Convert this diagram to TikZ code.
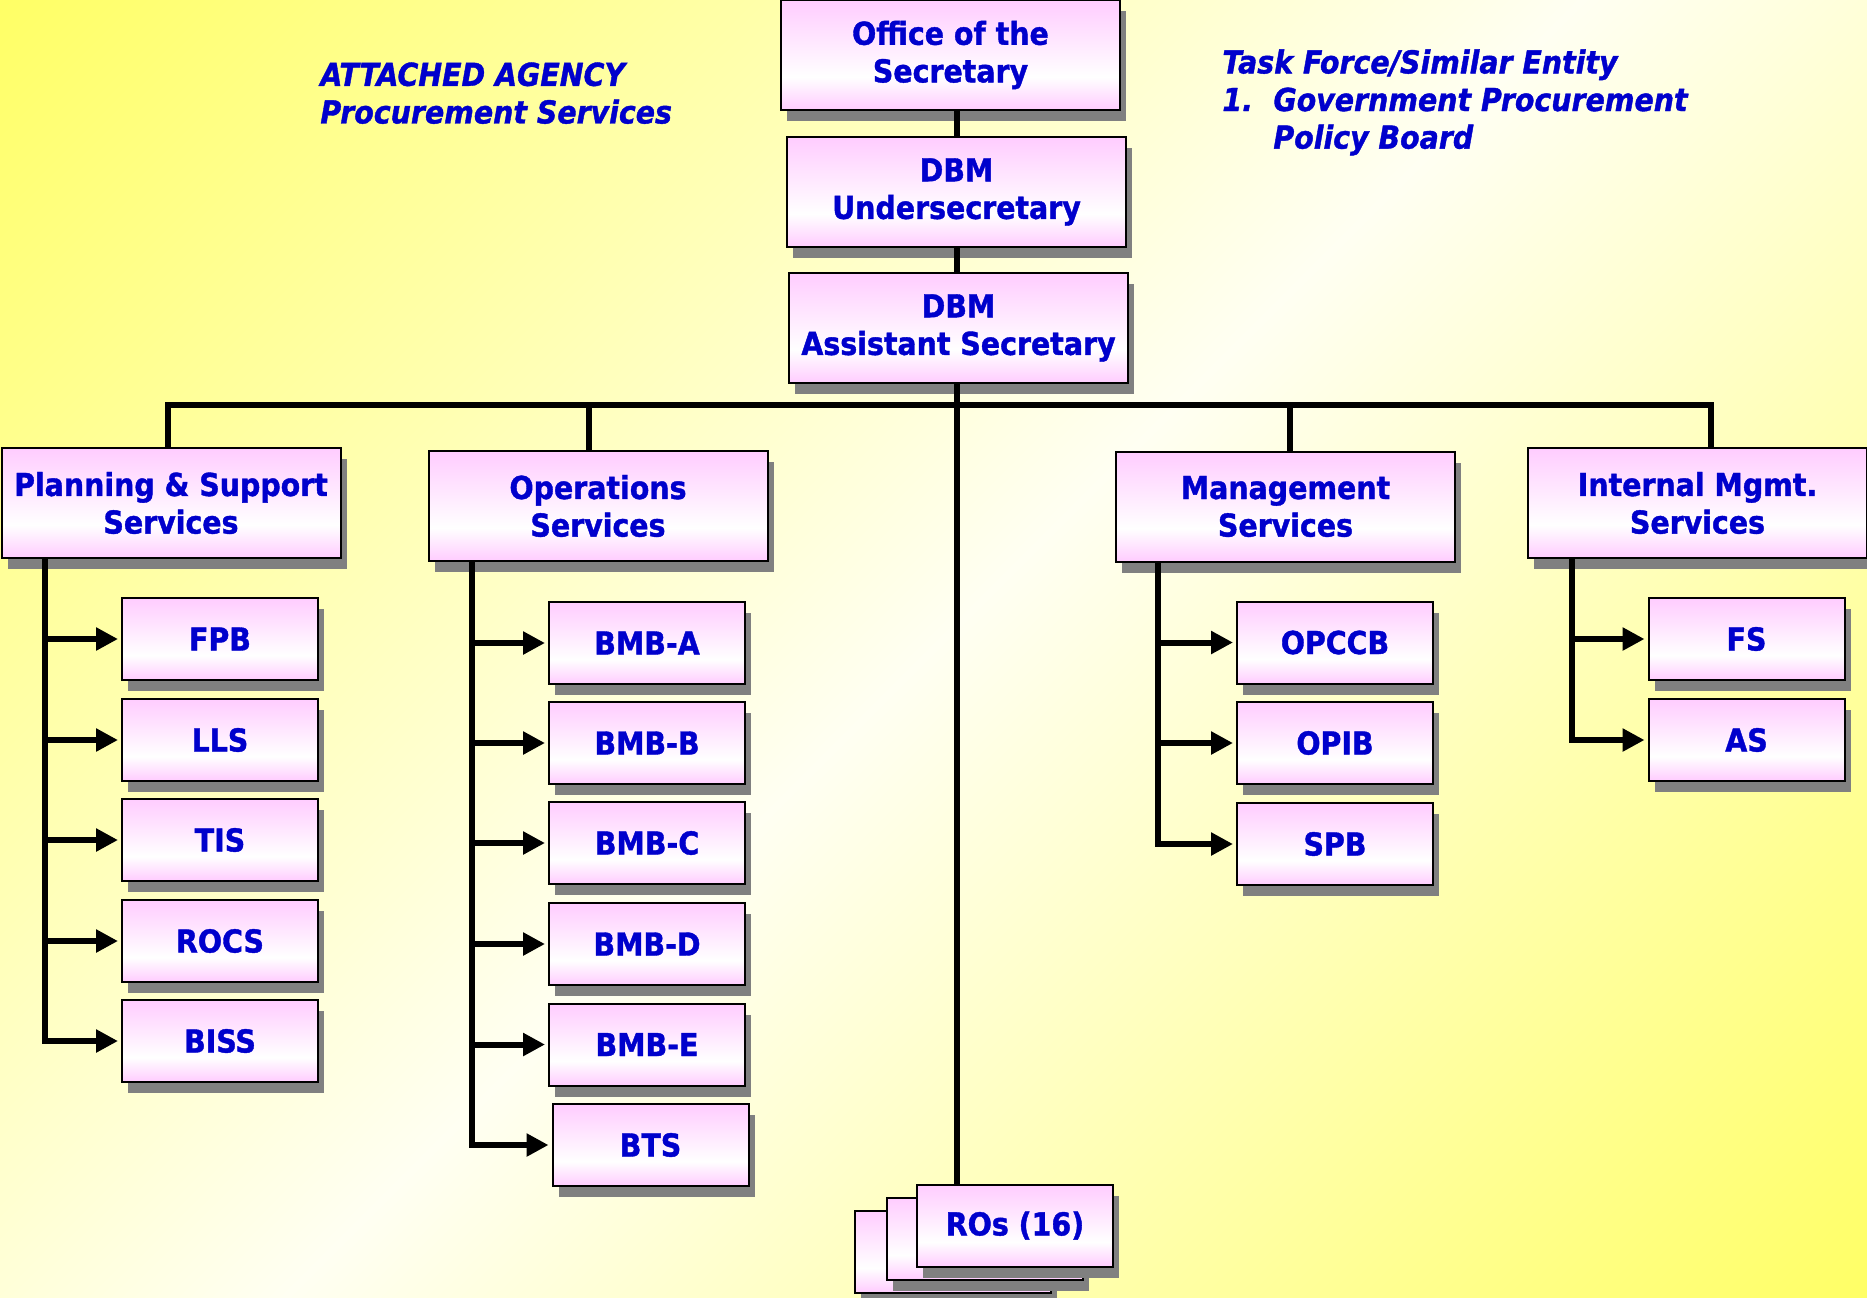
\documentclass[tikz,border=0pt]{standalone}
\usepackage{fontspec}
\usepackage{xcolor}
\usetikzlibrary{arrows.meta, calc, positioning, shadows}
\newfontfamily\orgfont{DejaVu Sans Condensed}[BoldFeatures={FakeBold=1.2}, BoldItalicFeatures={FakeBold=1.2}]
\definecolor{orgblue}{RGB}{0,0,204}
\definecolor{boxpink}{RGB}{255,204,255}
\definecolor{shadowgray}{RGB}{128,128,128}
\definecolor{bgyellow}{RGB}{255,255,102}
\definecolor{bglight}{RGB}{255,255,242}
\pgfdeclareverticalshading{boxshade}{100bp}{color(0bp)=(boxpink); color(25bp)=(boxpink); color(40bp)=(white); color(75bp)=(boxpink); color(100bp)=(boxpink)}
\pgfdeclareverticalshading{bgshade}{100bp}{color(0bp)=(bgyellow); color(14.6bp)=(bgyellow); color(50bp)=(bglight); color(85.4bp)=(bgyellow); color(100bp)=(bgyellow)}
\tikzset{
  unit/.style={rectangle, draw=black, line width=1pt, shading=boxshade, text=orgblue,
    font=\orgfont\bfseries\fontsize{15.8}{18.8}\selectfont, align=center, inner sep=0pt,
    drop shadow={shadow xshift=3pt, shadow yshift=-5.5pt, fill=shadowgray, opacity=1}},
  headbox/.style={unit, minimum width=169.5pt, minimum height=55pt},
  subbox/.style={unit, minimum width=98pt, minimum height=41pt},
  link/.style={line width=3pt, black},
  feed/.style={link, -{Triangle[length=11pt, width=11pt]}, shorten >=1.5pt},
  note/.style={text=orgblue, font=\orgfont\bfseries\itshape\fontsize{15.8}{18.8}\selectfont,
    align=left, inner sep=0pt, anchor=north west}
}
\begin{document}
\begin{tikzpicture}[x=0.5pt, y=-0.5pt]
        % Background
        \useasboundingbox (0,0) rectangle (1867,1297);
        \fill[shading=bgshade, shading angle=45] (0,0) rectangle (1867,1297);

        % Side notes
        \node[note] (attached) at (320,62) {ATTACHED AGENCY\\Procurement Services};
        \node[note] (taskforce) at (1222,49) {Task Force/Similar Entity\\\makebox[25.5pt][l]{1.}Government Procurement\\\hspace*{25.5pt}Policy Board};

        % Top of the chart
        \node[headbox] (office) at (950.5,55) {Office of the\\Secretary};
        \node[headbox] (under) at (956.5,192) {DBM\\Undersecretary};
        \node[headbox] (asst) at (958.5,328) {DBM\\Assistant Secretary};

        % Services
        \node[headbox] (pss) at (171,503) {Planning \& Support\\Services};
        \node[headbox] (ops) at (598,506) {Operations\\Services};
        \node[headbox] (mgmt) at (1285.5,506.5) {Management\\Services};
        \node[headbox] (intl) at (1697.5,503) {Internal Mgmt.\\Services};

        % Planning & Support units
        \node[subbox] (fpb) at (220,639) {FPB};
        \node[subbox] (lls) at (220,740) {LLS};
        \node[subbox] (tis) at (220,840) {TIS};
        \node[subbox] (rocs) at (220,941) {ROCS};
        \node[subbox] (biss) at (220,1041) {BISS};

        % Operations units
        \node[subbox] (bmba) at (647,643) {BMB-A};
        \node[subbox] (bmbb) at (647,743) {BMB-B};
        \node[subbox] (bmbc) at (647,843) {BMB-C};
        \node[subbox] (bmbd) at (647,944) {BMB-D};
        \node[subbox] (bmbe) at (647,1044.5) {BMB-E};
        \node[subbox] (bts) at (650.5,1145) {BTS};

        % Management units
        \node[subbox] (opccb) at (1335,642.5) {OPCCB};
        \node[subbox] (opib) at (1335,743) {OPIB};
        \node[subbox] (spb) at (1335,844) {SPB};

        % Internal Mgmt. units
        \node[subbox] (fs) at (1746.5,639) {FS};
        \node[subbox] (as) at (1746.5,740) {AS};

        % Regional offices (stacked)
        \node[subbox] (ros3) at (953,1251.5) {};
        \node[subbox] (ros2) at (985,1238.5) {};
        \node[subbox] (ros) at (1015,1225.5) {ROs (16)};

        % Vertical chain
        \draw[link] (under.north |- office.south) -- (under.north);
        \draw[link] (under.south) -- (under.south |- asst.north);
        \draw[link] (under.south |- asst.south) -- (under.south |- ros.north);

        % Bus and drops
        \coordinate (bus) at (956,405);
        \coordinate (opsdrop) at ([xshift=-4.5pt]ops.north);
        \coordinate (mgmtdrop) at ([xshift=2.25pt]mgmt.north);
        \draw[link] ([xshift=-1.5pt]pss.north) |- (bus) -| ([xshift=6.75pt]intl.north);
        \draw[link] (opsdrop) -- (opsdrop |- bus);
        \draw[link] (mgmtdrop) -- (mgmtdrop |- bus);

        % Spines
        \coordinate (pssbus) at ([xshift=22pt]pss.south west);
        \coordinate (opsbus) at ([xshift=22pt]ops.south west);
        \coordinate (mgmtbus) at ([xshift=21.5pt]mgmt.south west);
        \coordinate (intlbus) at ([xshift=22.5pt]intl.south west);

        \draw[feed] (pssbus |- fpb.west) -- (fpb.west);
        \draw[feed] (pssbus |- lls.west) -- (lls.west);
        \draw[feed] (pssbus |- tis.west) -- (tis.west);
        \draw[feed] (pssbus |- rocs.west) -- (rocs.west);
        \draw[feed] (pssbus) |- (biss.west);

        \draw[feed] (opsbus |- bmba.west) -- (bmba.west);
        \draw[feed] (opsbus |- bmbb.west) -- (bmbb.west);
        \draw[feed] (opsbus |- bmbc.west) -- (bmbc.west);
        \draw[feed] (opsbus |- bmbd.west) -- (bmbd.west);
        \draw[feed] (opsbus |- bmbe.west) -- (bmbe.west);
        \draw[feed] (opsbus) |- (bts.west);

        \draw[feed] (mgmtbus |- opccb.west) -- (opccb.west);
        \draw[feed] (mgmtbus |- opib.west) -- (opib.west);
        \draw[feed] (mgmtbus) |- (spb.west);

        \draw[feed] (intlbus |- fs.west) -- (fs.west);
        \draw[feed] (intlbus) |- (as.west);
    \end{tikzpicture}
\end{document}
